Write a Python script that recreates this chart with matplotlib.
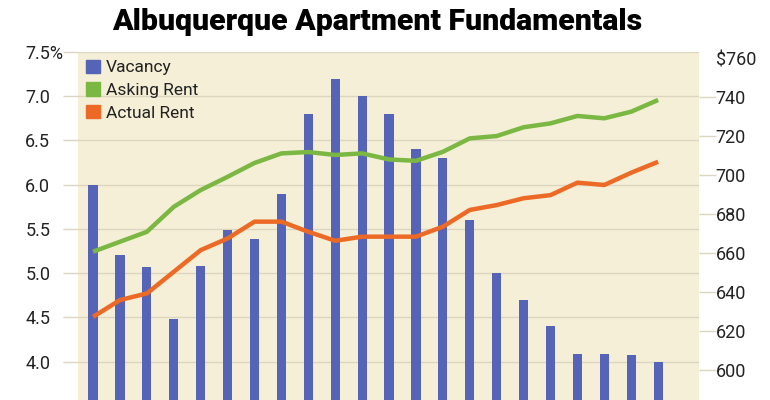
import matplotlib
matplotlib.use("Agg")
import matplotlib.pyplot as plt
from matplotlib.patches import Patch
import numpy as np

# values (one point per period, 22 periods)
vacancy = [6.0, 5.2, 5.07, 4.48, 5.08, 5.49, 5.39, 5.89, 6.8, 7.2, 7.0,
           6.8, 6.4, 6.3, 5.6, 5.0, 4.7, 4.4, 4.08, 4.08, 4.07, 3.99]
asking_rent = [660.7, 665.8, 670.9, 683.7, 692.3, 699.1, 706.2, 711.1, 711.8, 710.3, 711.1,
               708.0, 707.3, 711.9, 718.8, 720.0, 724.5, 726.5, 730.3, 729.1, 732.5, 738.5]
actual_rent = [627.3, 635.9, 639.3, 650.4, 661.5, 667.5, 676.1, 676.1, 670.9, 666.3, 668.4,
               668.4, 668.4, 673.5, 682.1, 684.6, 688.1, 689.7, 696.1, 694.9, 701.2, 706.8]

left_ticks = [3.5, 4.0, 4.5, 5.0, 5.5, 6.0, 6.5, 7.0, 7.5]
left_labels = ["3.5", "4.0", "4.5", "5.0", "5.5", "6.0", "6.5", "7.0", "7.5%"]
right_ticks = [600, 620, 640, 660, 680, 700, 720, 740, 760]
right_labels = ["600", "620", "640", "660", "680", "700", "720", "740", "$760"]

BLUE = "#5564b6"
GREEN = "#7bb843"
ORANGE = "#ec6a26"
BG = "#f4efd6"
GRID = "#dcd6c0"
TXT = "#222222"
FONT = ["Roboto", "DejaVu Sans"]

fig = plt.figure(figsize=(7.7, 4.0), dpi=100)
fig.patch.set_facecolor("white")
# chart is cropped at the bottom in the reference, so the axes run below the figure
ax = fig.add_axes([0.1013, -0.125, 0.8065, 0.995])
ax.set_facecolor(BG)
x = np.arange(len(vacancy))

ax.bar(x, vacancy, width=0.34, color=BLUE, zorder=3)
ax.set_xlim(-0.56, 22.52)
ax.set_ylim(3.0, 7.5)
ax.set_yticks(left_ticks)
ax.set_yticklabels(left_labels, fontsize=13, color=TXT, family=FONT)
for t in ax.get_yticklabels():
    t.set_horizontalalignment("left")
ax.tick_params(axis="y", length=11, width=1, color=GRID, pad=27)
ax.yaxis.get_major_ticks()[-1].tick1line.set_visible(False)
ax.set_xticks([])
ax.grid(axis="y", color=GRID, lw=1, zorder=0)
ax.set_axisbelow(True)
for s in ax.spines.values():
    s.set_visible(False)

ax2 = ax.twinx()
ax2.plot(x, asking_rent, color=GREEN, lw=3.2, solid_capstyle="butt", zorder=4)
ax2.plot(x, actual_rent, color=ORANGE, lw=3.2, solid_capstyle="butt", zorder=4)
ax2.set_ylim(559.0, 763.1)
ax2.set_yticks(right_ticks)
ax2.set_yticklabels(right_labels, fontsize=13, color=TXT, family=FONT)
ax2.tick_params(axis="y", length=12, width=1, color=GRID, pad=0)
ax2.yaxis.get_major_ticks()[-1].tick2line.set_visible(False)
for s in ax2.spines.values():
    s.set_visible(False)

handles = [Patch(color=BLUE), Patch(color=GREEN), Patch(color=ORANGE)]
leg = ax2.legend(handles, ["Vacancy", "Asking Rent", "Actual Rent"], loc="upper left",
                 frameon=False, prop={"family": FONT, "size": 12.5},
                 handlelength=0.8, handleheight=0.8, handletextpad=0.35,
                 labelspacing=0.4, borderaxespad=0.25, borderpad=0.2)
for t in leg.get_texts():
    t.set_color(TXT)

fig.text(0.49, 0.944, "Albuquerque Apartment Fundamentals", ha="center", va="center",
         fontsize=21.8, fontweight="black", family=FONT, color="black")

fig.savefig("out.png", dpi=100)
